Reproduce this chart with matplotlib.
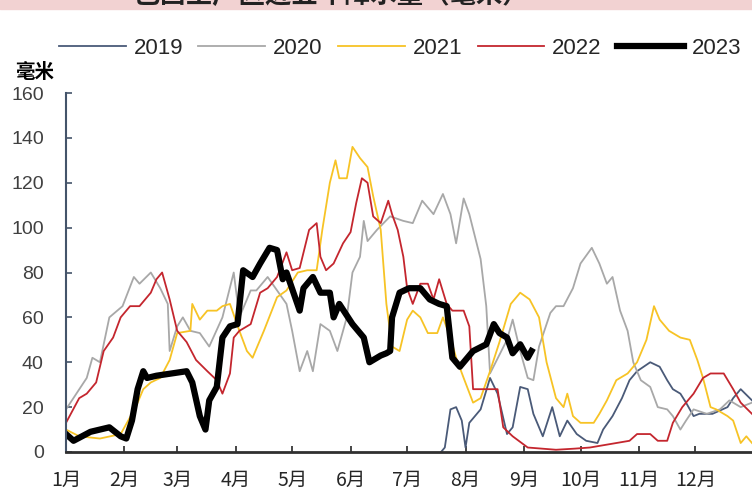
import matplotlib
matplotlib.use('Agg')
import matplotlib.pyplot as plt
from matplotlib.patches import Rectangle

# day of year -> rainfall (mm)
d19 = [199, 201, 204, 207, 210, 212, 214, 220, 225, 229, 234, 237, 241, 245, 248, 253, 258, 262, 266, 271,
       276, 282, 285, 290, 295, 299, 303, 310, 315, 319, 322, 326, 329, 333, 336, 343, 351, 354, 358, 364]
v19 = [0, 2, 19, 20, 14, 2, 13, 19, 33, 26, 8, 11, 29, 28, 17, 7, 20, 7, 14, 8,
       5, 4, 10, 16, 24, 32, 36, 40, 38, 32, 28, 26, 22, 16, 17, 17, 20, 24, 28, 23]

d20 = [0, 11, 14, 18, 23, 30, 36, 39, 45, 50, 54, 55, 59, 62, 66, 71, 76, 83, 89, 92,
       98, 101, 107, 112, 117, 120, 124, 128, 131, 135, 140, 144, 149, 152, 156, 158, 160, 165, 172, 179,
       184, 189, 195, 200, 204, 207, 211, 214, 220, 223, 225, 234, 237, 241, 245, 248, 251, 257, 260, 264,
       269, 273, 279, 283, 287, 290, 294, 298, 301, 305, 310, 314, 319, 322, 326, 329, 333, 340, 347, 352,
       358, 364]
v20 = [19, 33, 42, 40, 60, 65, 78, 75, 80, 73, 66, 45, 56, 60, 54, 53, 47, 60, 80, 60,
       72, 72, 78, 72, 66, 54, 36, 45, 36, 57, 54, 45, 60, 80, 87, 103, 94, 99, 105, 103,
       102, 112, 106, 115, 106, 93, 113, 106, 86, 65, 35, 50, 59, 45, 33, 32, 47, 62, 65, 65,
       73, 84, 91, 84, 75, 78, 63, 54, 40, 32, 29, 20, 19, 16, 10, 14, 19, 17, 19, 23,
       20, 22]

d21 = [0, 7, 18, 29, 37, 41, 45, 50, 55, 59, 66, 67, 71, 75, 80, 83, 87, 92, 96, 99,
       105, 112, 117, 123, 128, 133, 136, 140, 143, 145, 149, 152, 156, 160, 163, 167, 170, 173, 177, 181,
       184, 188, 192, 197, 200, 204, 207, 211, 216, 220, 225, 230, 236, 241, 246, 251, 255, 260, 264, 266,
       269, 273, 280, 283, 287, 292, 298, 303, 308, 312, 315, 320, 326, 331, 335, 338, 342, 345, 351, 354,
       358, 361, 364]
v21 = [10, 7, 6, 8, 20, 28, 31, 33, 41, 53, 54, 66, 59, 63, 63, 65, 66, 54, 45, 42,
       54, 69, 72, 80, 81, 81, 99, 120, 130, 122, 122, 136, 131, 127, 114, 99, 66, 47, 45, 59,
       63, 60, 53, 53, 60, 51, 42, 33, 22, 24, 36, 49, 66, 71, 68, 60, 40, 24, 20, 26,
       16, 13, 13, 17, 23, 32, 35, 40, 50, 65, 59, 54, 51, 50, 41, 33, 20, 19, 16, 14,
       4, 7, 4]

d22 = [0, 7, 11, 16, 20, 25, 29, 34, 39, 45, 48, 51, 55, 59, 64, 69, 75, 80, 83, 87,
       89, 92, 98, 103, 107, 112, 117, 120, 124, 129, 133, 135, 138, 142, 147, 151, 154, 157, 160, 163,
       167, 171, 173, 176, 179, 181, 184, 188, 192, 195, 198, 202, 205, 211, 214, 216, 229, 232, 237, 245,
       260, 270, 278, 299, 303, 310, 314, 319, 322, 327, 333, 338, 342, 349, 354, 358, 364]
v22 = [13, 24, 26, 31, 45, 51, 60, 65, 65, 71, 77, 80, 68, 54, 49, 41, 36, 32, 26, 35,
       51, 54, 57, 71, 73, 78, 89, 81, 82, 99, 102, 87, 81, 84, 93, 98, 111, 122, 120, 105,
       102, 112, 106, 99, 87, 73, 66, 75, 75, 68, 77, 66, 63, 63, 56, 28, 28, 11, 7, 2,
       1, 1.5, 2, 5, 8, 8, 5, 5, 13, 20, 26, 33, 35, 35, 28, 22, 17]

d23 = [0, 4, 13, 23, 29, 32, 35, 38, 41, 43, 48, 64, 67, 71, 74, 76, 80, 83, 87, 91,
       94, 99, 103, 108, 112, 115, 117, 124, 126, 131, 135, 140, 142, 145, 152, 158, 161, 167, 170, 172,
       173, 177, 182, 188, 193, 198, 202, 205, 209, 216, 223, 227, 230, 234, 237, 241, 245, 247]
v23 = [8, 5, 9, 11, 7, 6, 14, 28, 36, 33, 34, 36, 31, 16, 10, 23, 29, 51, 56, 57,
       81, 78, 84, 91, 90, 77, 80, 63, 73, 78, 71, 71, 60, 66, 57, 51, 40, 43, 44, 45,
       60, 71, 73, 73, 68, 66, 65, 42, 38, 45, 48, 57, 53, 51, 44, 48, 42, 45]

years = ['2019', '2020', '2021', '2022', '2023']
month_days = [0, 31, 59, 90, 120, 151, 181, 212, 243, 273, 304, 334]
month_labels = ['1月', '2月', '3月', '4月', '5月', '6月', '7月', '8月', '9月', '10月', '11月', '12月']

colors = ['#4a5a78', '#a8a8a8', '#f7c325', '#c4262e', '#000000']
widths = [1.3, 1.3, 1.3, 1.3, 4.5]

num_font = 'Liberation Sans'
cjk = ['Noto Sans CJK SC', 'DejaVu Sans']

fig = plt.figure(figsize=(7.52, 4.92), dpi=100)
ax = fig.add_axes([66/752, 40/492, 686/752, 359/492])

series = [(d19, v19), (d20, v20), (d21, v21), (d22, v22), (d23, v23)]
for (d, v), yr, c, lw in zip(series, years, colors, widths):
    ax.plot(d, v, color=c, lw=lw, label=yr, solid_joinstyle='round')

ax.set_xlim(0, 364)
ax.set_ylim(0, 160)
ax.set_yticks(range(0, 161, 20))
ax.set_yticklabels([str(t) for t in range(0, 161, 20)], family=num_font, fontsize=14, color='#404040')
ax.set_xticks(month_days)
ax.set_xticklabels(month_labels, family=cjk, fontsize=14, color='#262626')
ax.tick_params(axis='y', direction='in', length=4, width=1.2, color='#44546a', pad=16)
ax.tick_params(axis='x', direction='in', length=4, width=1.2, color='#262626', pad=13)

for s in ['top', 'right']:
    ax.spines[s].set_visible(False)
ax.spines['left'].set_color('#44546a')
ax.spines['left'].set_linewidth(1.5)
ax.spines['bottom'].set_color('#303030')
ax.spines['bottom'].set_linewidth(2)

leg = fig.legend(loc='center', bbox_to_anchor=(400/752, 1 - 48/492), ncol=5, frameon=False,
                 handlelength=3.0, handletextpad=0.35, columnspacing=0.7,
                 prop={'family': num_font, 'size': 16})
for t in leg.get_texts():
    t.set_color('#262626')

fig.text(15/752, 1 - 72/492, '毫米', family=cjk, fontsize=14, fontweight='bold', va='center', ha='left')

# pink title band, title itself cut off by the top edge
fig.patches.append(Rectangle((0, 1 - 9/492), 1, 9/492, transform=fig.transFigure,
                             color='#f2d2d2', zorder=0))
fig.text(332/752, 1 - 3/492, '巴西主产区近五年降水量（毫米）', family=cjk, fontsize=19,
         fontweight='bold', ha='center', va='baseline', color='#222222')

fig.savefig('out.png', dpi=100)
